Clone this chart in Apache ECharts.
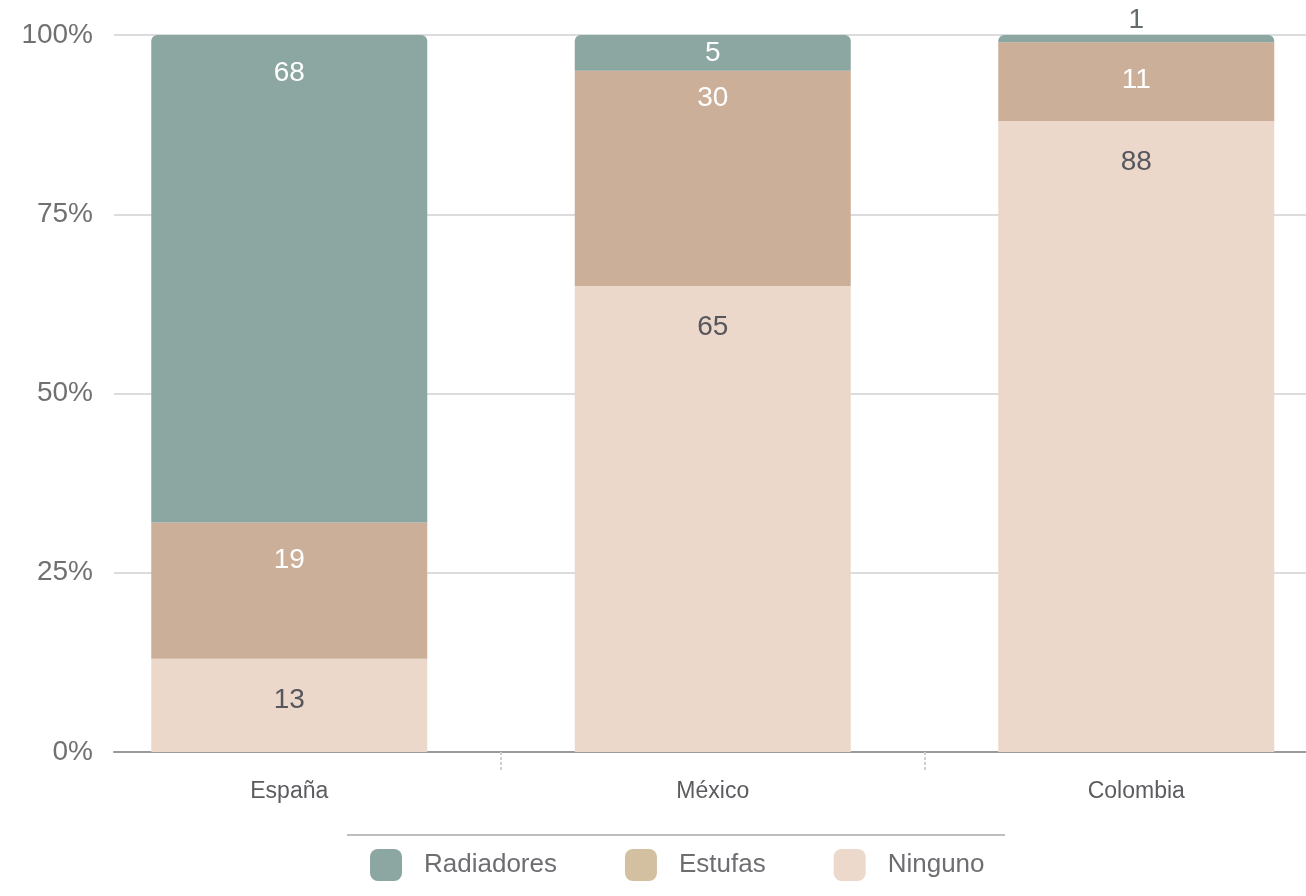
<!DOCTYPE html>
<html>
<head>
<meta charset="utf-8">
<script src="https://cdn.jsdelivr.net/npm/echarts@6/dist/echarts.min.js"></script>
<style>
  html, body { margin: 0; padding: 0; background: #fff; }
  #chart { width: 1306px; height: 896px; }
</style>
</head>
<body>
<div id="chart"></div>
<script>
const countries = ['España', 'México', 'Colombia']
const radiadores = [68, 5, 1]
const estufas = [19, 30, 11]
const ninguno = [13, 65, 88]
const yTicks = [0, 25, 50, 75, 100]

const FONT = 'Liberation Sans'
const colors = { radiadores: '#8ca6a1', estufas: '#cbaf98', ninguno: '#ebd8cb' }

const chart = echarts.init(document.getElementById('chart'))

// label tweaks: small segments get their label centred or put on top
const radLabels = radiadores.map((v) => {
  if (v < 3) return { value: v, label: { position: 'top', distance: 1, color: '#646b6b' } }
  if (v < 8) return { value: v, label: { position: 'inside' } }
  return v
})
// a centred label just above pushes the next one up a bit
const estLabels = estufas.map((v, i) => {
  if (radiadores[i] >= 3 && radiadores[i] < 8) return { value: v, label: { distance: 13 } }
  return v
})

const baseLabel = {
  show: true,
  position: 'insideTop',
  distance: 24,
  fontFamily: FONT,
  fontSize: 28,
  color: '#ffffff'
}

const option = {
  animation: false,
  textStyle: { fontFamily: FONT },
  grid: [
    { left: 114, right: 0, top: 35, bottom: 144, outerBoundsMode: 'none' },
    // bars sit on their own, slightly wider band grid
    { left: 77.5, width: 1270.5, top: 35, bottom: 144, outerBoundsMode: 'none' }
  ],
  xAxis: [
    {
      type: 'category',
      gridIndex: 0,
      data: countries,
      axisLine: { lineStyle: { color: '#9a9a9e', width: 2 } },
      axisTick: { show: false },
      axisLabel: { show: false }
    },
    {
      type: 'category',
      gridIndex: 1,
      data: countries,
      axisLine: { show: false },
      axisTick: {
        show: true,
        length: 18,
        interval: (i) => i > 0,
        lineStyle: { color: '#d0d0d0', type: [3, 2], width: 2 }
      },
      axisLabel: { fontFamily: FONT, fontSize: 23, color: '#5c5c60', margin: 28 }
    }
  ],
  yAxis: [
    {
      type: 'value',
      gridIndex: 0,
      min: yTicks[0],
      max: yTicks[yTicks.length - 1],
      interval: 25,
      axisLine: { show: false },
      axisTick: { show: false },
      axisLabel: { formatter: '{value}%', fontFamily: FONT, fontSize: 28, color: '#707070', margin: 21 },
      splitLine: { lineStyle: { color: '#dcdcdf', width: 2 } }
    },
    {
      type: 'value',
      gridIndex: 1,
      min: 0,
      max: 100,
      show: false,
      splitLine: { show: false }
    }
  ],
  legend: {
    left: 370,
    top: 849,
    padding: 0,
    itemWidth: 32,
    itemHeight: 32,
    itemGap: 68,
    icon: 'roundRect',
    textStyle: { fontFamily: FONT, fontSize: 26, color: '#6e6e72', padding: [0, 0, 0, 17] },
    data: [
      { name: 'Radiadores', itemStyle: { color: '#8ca6a1' } },
      { name: 'Estufas', itemStyle: { color: '#d3c0a0' } },
      { name: 'Ninguno', itemStyle: { color: '#ecd9cc' } }
    ]
  },
  graphic: [
    {
      type: 'line',
      shape: { x1: 347, y1: 835, x2: 1005, y2: 835 },
      style: { stroke: '#a8a8a8', lineWidth: 1.5 }
    }
  ],
  series: [
    {
      name: 'Ninguno',
      type: 'bar',
      stack: 'total',
      xAxisIndex: 1,
      yAxisIndex: 1,
      barWidth: 276,
      data: ninguno,
      itemStyle: { color: colors.ninguno },
      label: Object.assign({}, baseLabel, { color: '#56565c', distance: 27 })
    },
    {
      name: 'Estufas',
      type: 'bar',
      stack: 'total',
      xAxisIndex: 1,
      yAxisIndex: 1,
      barWidth: 276,
      data: estLabels,
      itemStyle: { color: colors.estufas },
      label: baseLabel
    },
    {
      name: 'Radiadores',
      type: 'bar',
      stack: 'total',
      xAxisIndex: 1,
      yAxisIndex: 1,
      barWidth: 276,
      data: radLabels,
      itemStyle: { color: colors.radiadores, borderRadius: [6, 6, 0, 0] },
      label: baseLabel
    }
  ]
}

chart.setOption(option)
</script>
</body>
</html>
